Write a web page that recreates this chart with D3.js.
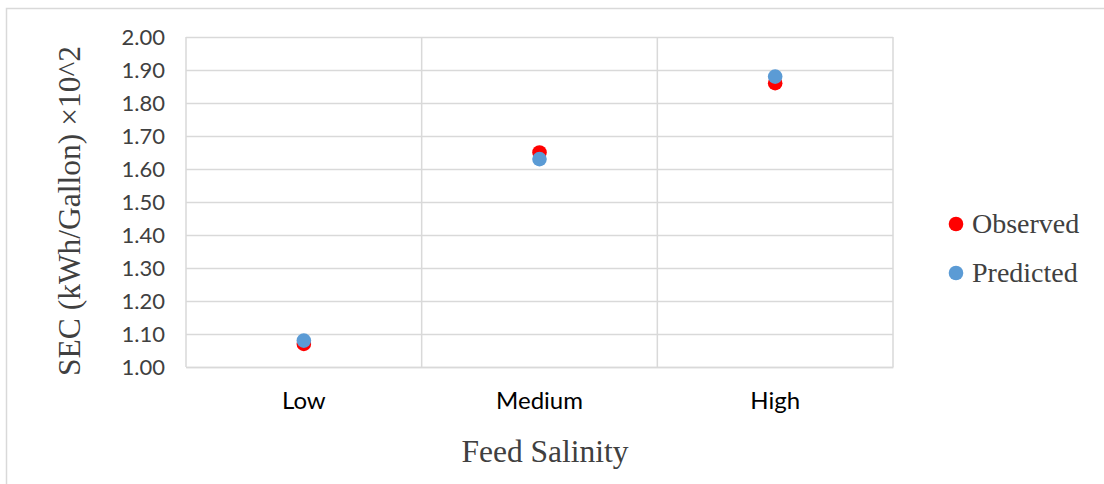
<!DOCTYPE html>
<html>
<head>
<meta charset="utf-8">
<script src="https://cdn.jsdelivr.net/npm/d3@7"></script>
<style>
  html, body { margin: 0; padding: 0; background: #fff; }
  svg { display: block; }
</style>
</head>
<body>
<svg id="chart" width="1104" height="484"></svg>
<script>
// Feed salinity levels and specific energy consumption (×10^2 kWh/gallon)
const categories = ["Low", "Medium", "High"];
const observed = [1.07, 1.65, 1.86];
const predicted = [1.08, 1.63, 1.88];
const yTicks = [1.00, 1.10, 1.20, 1.30, 1.40, 1.50, 1.60, 1.70, 1.80, 1.90, 2.00];
const seriesNames = ["Observed", "Predicted"];
const seriesColors = ["#FF0000", "#5B9BD5"];

const svg = d3.select("#chart");
const plot = { left: 186, top: 37, right: 893, bottom: 367 };
const grid = "#D9D9D9";
const sans = "Lato, 'Open Sans', sans-serif";
const serif = "'Liberation Serif', 'Times New Roman', serif";

// outer chart frame
svg.append("rect")
  .attr("x", 6.5).attr("y", 8.5)
  .attr("width", 1200).attr("height", 600)
  .attr("fill", "none").attr("stroke", grid).attr("stroke-width", 1.5);

const x = d3.scaleBand().domain(categories).range([plot.left, plot.right]);
const y = d3.scaleLinear().domain([1.0, 2.0]).range([plot.bottom, plot.top]);

// horizontal gridlines + y labels
const yAxis = d3.axisLeft(y).tickValues(yTicks).tickFormat(d3.format(".2f"))
  .tickSize(-(plot.right - plot.left)).tickPadding(21);
const gy = svg.append("g").attr("transform", `translate(${plot.left},0)`).call(yAxis);
gy.select(".domain").remove();
gy.selectAll(".tick line").attr("stroke", grid).attr("stroke-width", 1.5);
gy.selectAll(".tick text")
  .attr("font-family", sans)
  .attr("font-size", 22).attr("fill", "#404040");

// vertical category gridlines
const bounds = categories.map(c => x(c)).concat([plot.right]);
svg.append("g").selectAll("line").data(bounds).join("line")
  .attr("x1", d => d).attr("x2", d => d)
  .attr("y1", plot.top).attr("y2", plot.bottom)
  .attr("stroke", grid).attr("stroke-width", 1.5);

// x labels
const xAxis = d3.axisBottom(x).tickSize(0).tickPadding(0);
const gx = svg.append("g").attr("transform", `translate(0,${plot.bottom})`).call(xAxis);
gx.select(".domain").attr("stroke", grid).attr("stroke-width", 1.5);
gx.selectAll(".tick text")
  .attr("dy", null).attr("y", 42)
  .attr("font-family", sans)
  .attr("font-size", 24).attr("fill", "#000");

// points
const series = [observed, predicted];
series.forEach((vals, i) => {
  svg.append("g").selectAll("circle").data(vals).join("circle")
    .attr("cx", (d, j) => x(categories[j]) + x.bandwidth() / 2)
    .attr("cy", d => y(d))
    .attr("r", 7.3)
    .attr("fill", seriesColors[i]);
});

// axis titles
svg.append("text")
  .attr("transform", `translate(80,211) rotate(-90)`)
  .attr("text-anchor", "middle")
  .attr("font-family", serif).attr("font-size", 31.5).attr("fill", "#404040")
  .text("SEC (kWh/Gallon) ×10^2");

svg.append("text")
  .attr("x", 545).attr("y", 462)
  .attr("text-anchor", "middle")
  .attr("font-family", serif).attr("font-size", 31.5).attr("fill", "#404040")
  .text("Feed Salinity");

// legend
const legend = svg.append("g");
seriesNames.forEach((name, i) => {
  const ly = 224 + i * 49;
  legend.append("circle").attr("cx", 956).attr("cy", ly).attr("r", 7.3).attr("fill", seriesColors[i]);
  legend.append("text").attr("x", 972).attr("y", ly + 9)
    .attr("font-family", serif).attr("font-size", 28).attr("fill", "#404040")
    .text(name);
});
</script>
</body>
</html>
